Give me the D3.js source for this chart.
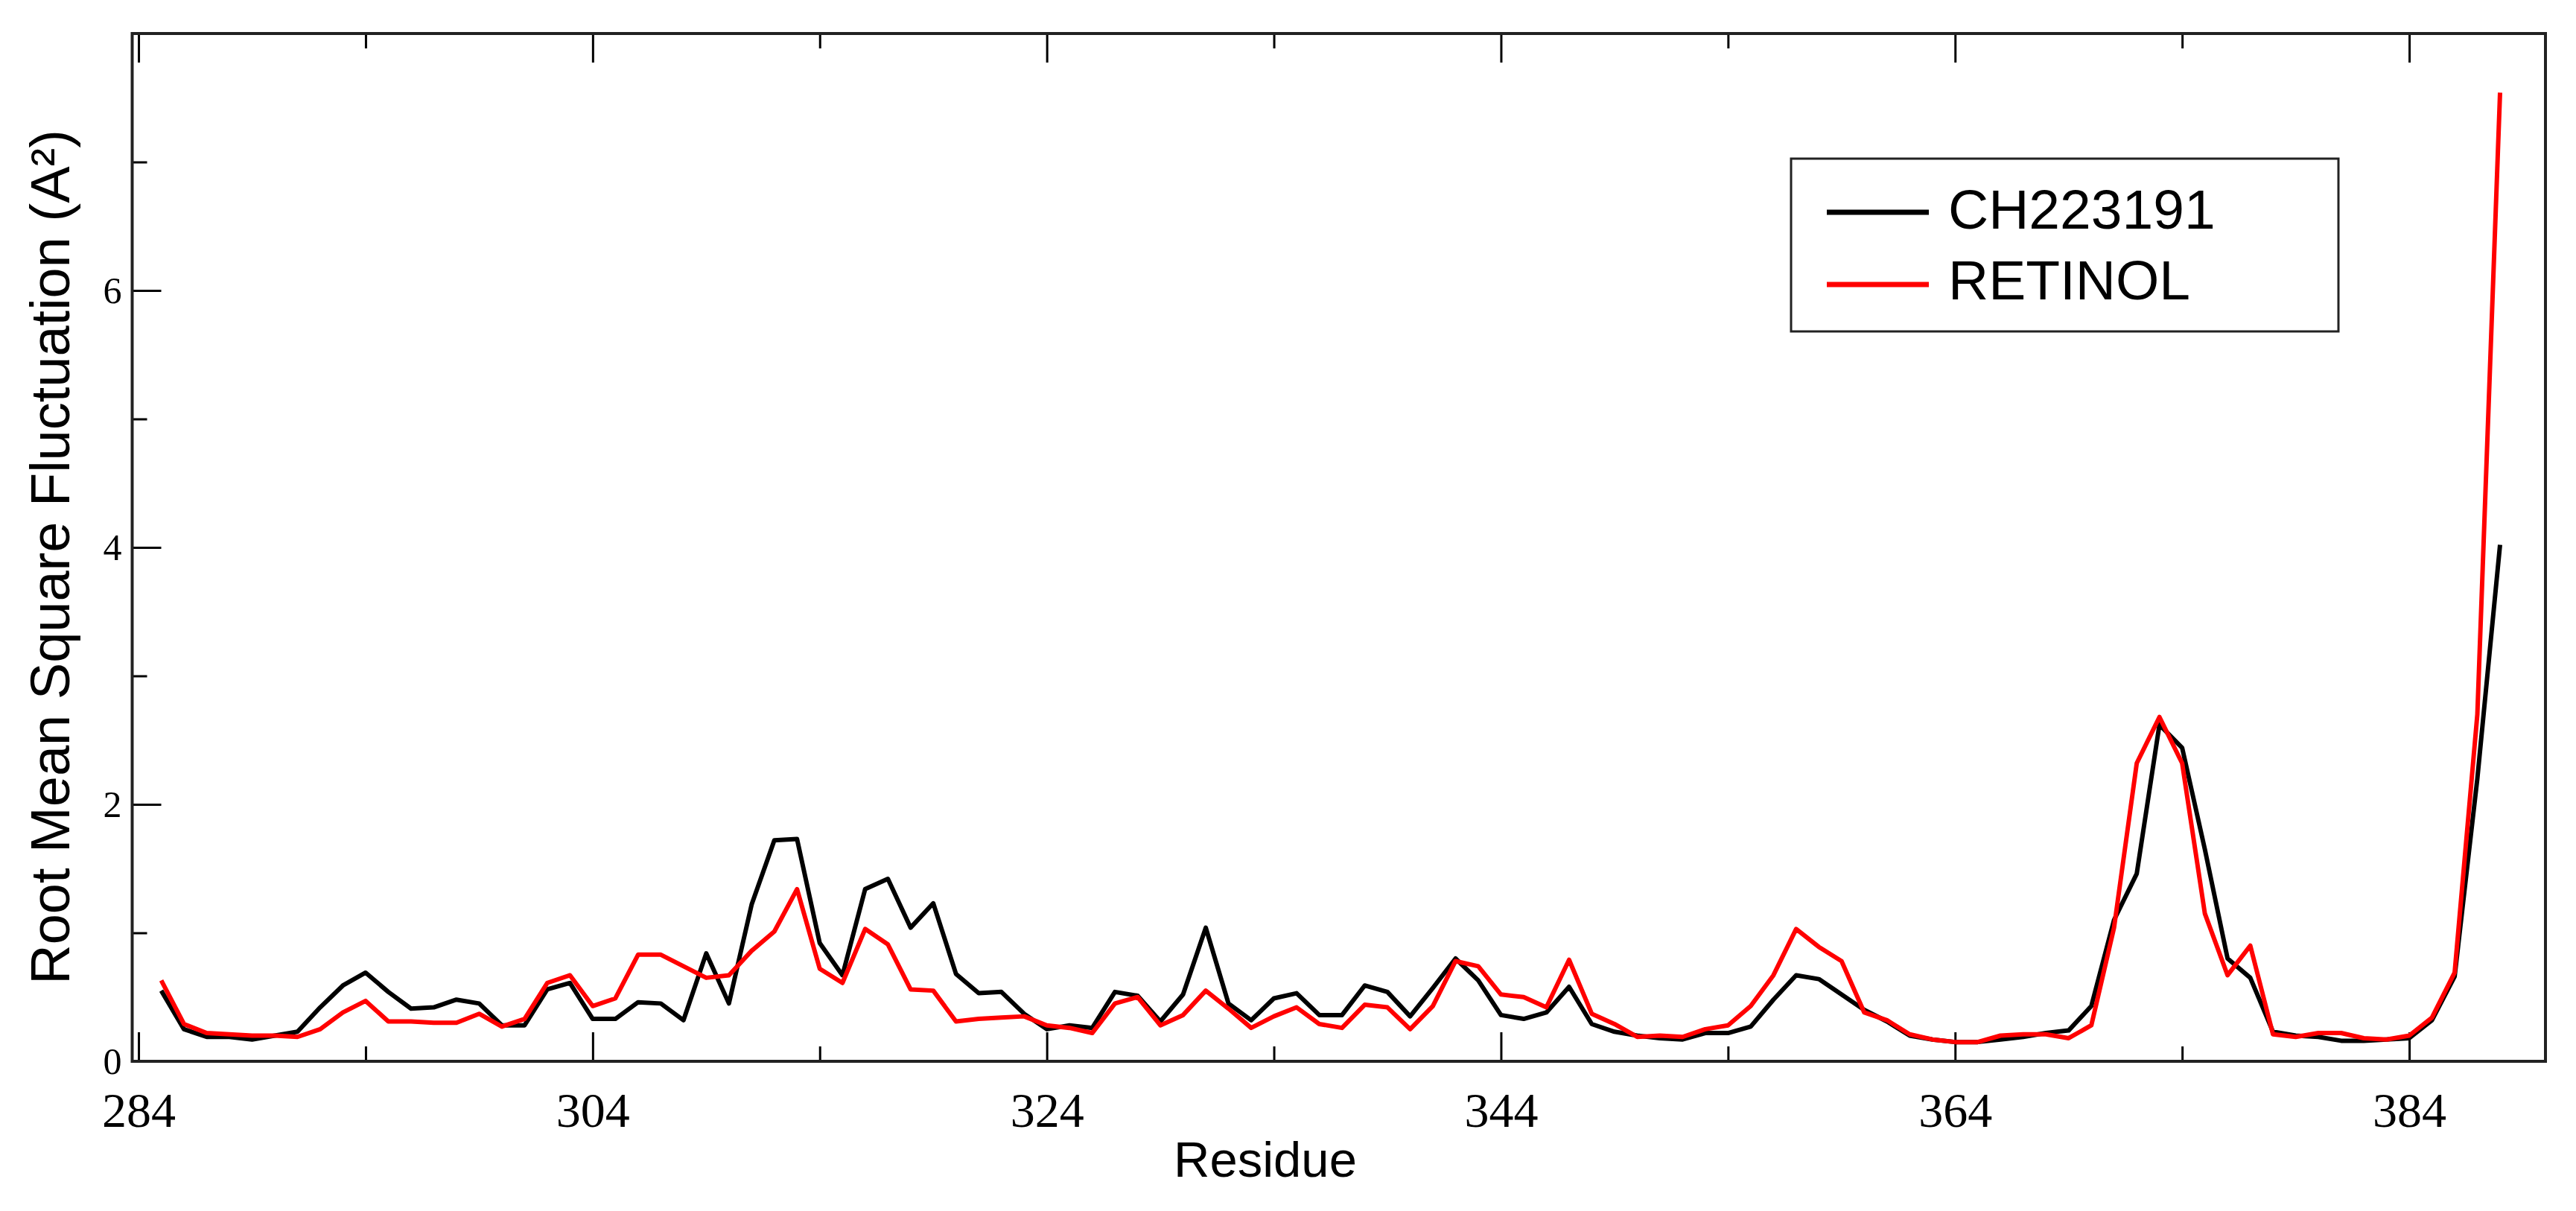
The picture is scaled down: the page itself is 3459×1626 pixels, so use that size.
<!DOCTYPE html>
<html>
<head>
<meta charset="utf-8">
<script src="https://cdn.jsdelivr.net/npm/d3@7"></script>
<style>
    body { margin: 0; background: #ffffff; }
    svg { display: block; }
</style>
</head>
<body>
<svg id="rmsf_svg"></svg>
<script>
"use strict";

const width = 3459;
const height = 1626;

// frame of the plot, in pixels
const plot_left = 177.5;
const plot_right = 3418;
const plot_top = 45;
const plot_bottom = 1425;

const major_tick = 39;
const minor_tick = 20;
const line_width = 6;

// data
const residues = d3.range(285, 389);

const ch223191 = [
    0.55, 0.25, 0.19, 0.19, 0.17, 0.20, 0.23, 0.42, 0.59, 0.69,
    0.54, 0.41, 0.42, 0.48, 0.45, 0.28, 0.28, 0.56, 0.61, 0.33,
    0.33, 0.46, 0.45, 0.32, 0.84, 0.45, 1.22, 1.72, 1.73, 0.92,
    0.67, 1.34, 1.42, 1.04, 1.23, 0.68, 0.53, 0.54, 0.37, 0.25,
    0.28, 0.26, 0.54, 0.51, 0.31, 0.52, 1.04, 0.45, 0.32, 0.49,
    0.53, 0.36, 0.36, 0.59, 0.54, 0.35, 0.57, 0.80, 0.63, 0.36,
    0.33, 0.38, 0.58, 0.29, 0.23, 0.20, 0.18, 0.17, 0.22, 0.22,
    0.27, 0.48, 0.67, 0.64, 0.52, 0.40, 0.31, 0.20, 0.17, 0.15,
    0.15, 0.17, 0.19, 0.22, 0.24, 0.43, 1.10, 1.46, 2.62, 2.44,
    1.65, 0.80, 0.65, 0.23, 0.20, 0.19, 0.16, 0.16, 0.17, 0.18,
    0.32, 0.66, 2.20, 4.02
];

const retinol = [
    0.63, 0.29, 0.22, 0.21, 0.20, 0.20, 0.19, 0.25, 0.38, 0.47,
    0.31, 0.31, 0.30, 0.30, 0.37, 0.27, 0.33, 0.61, 0.67, 0.43,
    0.49, 0.83, 0.83, 0.74, 0.65, 0.67, 0.86, 1.01, 1.34, 0.72,
    0.61, 1.03, 0.91, 0.56, 0.55, 0.31, 0.33, 0.34, 0.35, 0.28,
    0.26, 0.22, 0.45, 0.50, 0.28, 0.36, 0.55, 0.41, 0.26, 0.35,
    0.42, 0.29, 0.26, 0.44, 0.42, 0.25, 0.43, 0.78, 0.74, 0.52,
    0.50, 0.42, 0.79, 0.37, 0.29, 0.19, 0.20, 0.19, 0.25, 0.28,
    0.43, 0.67, 1.03, 0.89, 0.78, 0.38, 0.32, 0.21, 0.17, 0.15,
    0.15, 0.20, 0.21, 0.21, 0.18, 0.28, 1.04, 2.32, 2.68, 2.32,
    1.15, 0.67, 0.90, 0.21, 0.19, 0.22, 0.22, 0.18, 0.17, 0.20,
    0.34, 0.69, 2.70, 7.54
];

const series_names = ["CH223191", "RETINOL"];
const series_colors = ["#000000", "#ff0000"];

const x_major = [284, 304, 324, 344, 364, 384];
const x_minor = [294, 314, 334, 354, 374];
const y_major = [0, 2, 4, 6];
const y_minor = [1, 3, 5, 7];

const x_domain = [283.72, 390];
const y_domain = [0, 8];


const svg = d3.select("#rmsf_svg")
    .attr("width", width)
    .attr("height", height);

svg.append("rect")
    .attr("width", width)
    .attr("height", height)
    .attr("fill", "#ffffff");

const x = d3.scaleLinear()
    .domain(x_domain)
    .range([plot_left, plot_right]);

const y = d3.scaleLinear()
    .domain(y_domain)
    .range([plot_bottom, plot_top]);


// axes, ticks pointing inward
function styleAxis(g) {
    g.select(".domain").remove();
    g.selectAll(".tick line")
        .attr("stroke", "#000000")
        .attr("stroke-width", 3);
}

svg.append("g")
    .attr("transform", `translate(0, ${plot_bottom})`)
    .call(d3.axisBottom(x).tickValues(x_major).tickSize(-major_tick).tickPadding(41).tickFormat(d3.format("d")))
    .call(styleAxis)
    .selectAll("text")
    .attr("fill", "#000000")
    .style("font-family", "'Liberation Serif', 'Times New Roman', serif")
    .style("font-size", "66px");

svg.append("g")
    .attr("transform", `translate(0, ${plot_bottom})`)
    .call(d3.axisBottom(x).tickValues(x_minor).tickSize(-minor_tick).tickFormat(""))
    .call(styleAxis);

svg.append("g")
    .attr("transform", `translate(0, ${plot_top})`)
    .call(d3.axisTop(x).tickValues(x_major).tickSize(-major_tick).tickFormat(""))
    .call(styleAxis);

svg.append("g")
    .attr("transform", `translate(0, ${plot_top})`)
    .call(d3.axisTop(x).tickValues(x_minor).tickSize(-minor_tick).tickFormat(""))
    .call(styleAxis);

svg.append("g")
    .attr("transform", `translate(${plot_left}, 0)`)
    .call(d3.axisLeft(y).tickValues(y_major).tickSize(-major_tick).tickPadding(14).tickFormat(d3.format("d")))
    .call(styleAxis)
    .selectAll("text")
    .attr("fill", "#000000")
    .style("font-family", "'Liberation Serif', 'Times New Roman', serif")
    .style("font-size", "50px");

svg.append("g")
    .attr("transform", `translate(${plot_left}, 0)`)
    .call(d3.axisLeft(y).tickValues(y_minor).tickSize(-minor_tick).tickFormat(""))
    .call(styleAxis);

// frame
svg.append("rect")
    .attr("x", plot_left)
    .attr("y", plot_top)
    .attr("width", plot_right - plot_left)
    .attr("height", plot_bottom - plot_top)
    .attr("fill", "none")
    .attr("stroke", "#222222")
    .attr("stroke-width", 4);


// lines
const series = [ch223191, retinol];

const line = d3.line()
    .x((d, i) => x(residues[i]))
    .y(d => y(d));

svg.append("g")
    .selectAll("path")
    .data(series)
    .enter()
    .append("path")
    .attr("d", d => line(d))
    .attr("fill", "none")
    .attr("stroke", (d, i) => series_colors[i])
    .attr("stroke-width", line_width)
    .attr("stroke-linejoin", "round");


// axis titles
svg.append("text")
    .attr("x", 1699)
    .attr("y", 1580)
    .attr("text-anchor", "middle")
    .style("font-family", "'Liberation Sans', Arial, sans-serif")
    .style("font-size", "67px")
    .text("Residue");

svg.append("text")
    .attr("transform", `translate(93, 748) rotate(-90)`)
    .attr("text-anchor", "middle")
    .style("font-family", "'Liberation Sans', Arial, sans-serif")
    .style("font-size", "74px")
    .text("Root Mean Square Fluctuation (A²)");


// legend
const legend = svg.append("g");

legend.append("rect")
    .attr("x", 2405)
    .attr("y", 213)
    .attr("width", 735)
    .attr("height", 232)
    .attr("fill", "#ffffff")
    .attr("stroke", "#222222")
    .attr("stroke-width", 3);

legend.selectAll("line")
    .data(series_names)
    .enter()
    .append("line")
    .attr("x1", 2453)
    .attr("x2", 2590)
    .attr("y1", (d, i) => 285 + i * 97)
    .attr("y2", (d, i) => 285 + i * 97)
    .attr("stroke", (d, i) => series_colors[i])
    .attr("stroke-width", line_width + 1);

legend.selectAll("text")
    .data(series_names)
    .enter()
    .append("text")
    .attr("x", 2616)
    .attr("y", (d, i) => 307 + i * 95)
    .style("font-family", "'Liberation Sans', Arial, sans-serif")
    .style("font-size", "75px")
    .text(d => d);
</script>
</body>
</html>
